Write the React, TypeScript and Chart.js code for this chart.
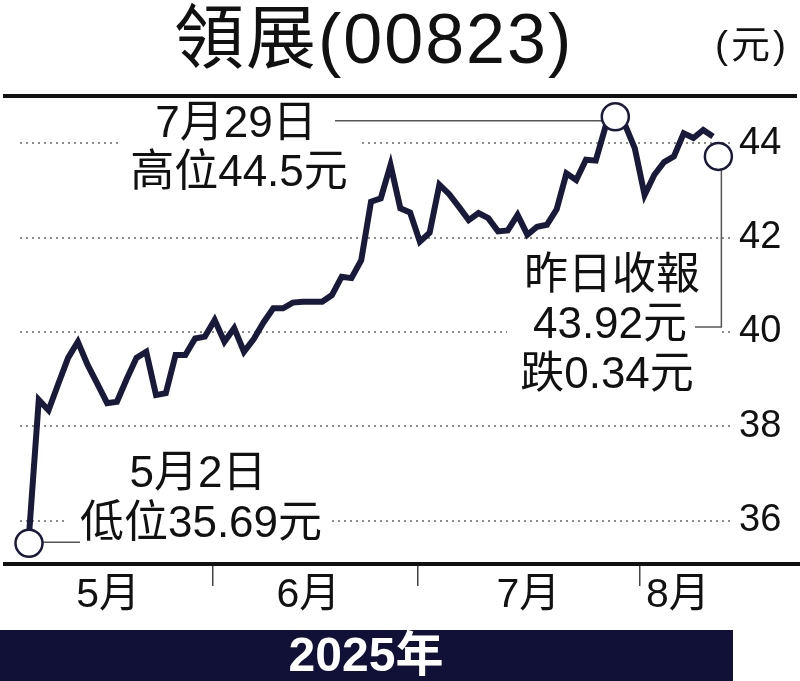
import React, { useEffect, useRef } from "react";
import { Chart, registerables } from "chart.js";

Chart.register(...registerables);

// 領展(00823) 收市價, 2025-05-02 起每個交易日
const closes = [
  35.69, 38.56, 38.34, 38.9, 39.45, 39.79, 39.3, 38.9, 38.49, 38.52,
  39.0, 39.45, 39.58, 38.66, 38.7, 39.51, 39.51, 39.86, 39.9, 40.25,
  39.79, 40.08, 39.58, 39.85, 40.2, 40.5, 40.5, 40.62, 40.64, 40.64,
  40.64, 40.78, 41.17, 41.14, 41.52, 42.76, 42.83, 43.54, 42.62, 42.53,
  41.91, 42.1, 43.12, 42.92, 42.65, 42.37, 42.52, 42.41, 42.13, 42.15,
  42.48, 42.06, 42.23, 42.27, 42.6, 43.36, 43.22, 43.65, 43.63, 44.35,
  44.5, 44.39, 43.89, 42.9, 43.33, 43.6, 43.72, 44.21, 44.11, 44.28,
  44.14,
];

// 圓圈標記 (低位, 高位, 昨日收報)
const markerX = [0, 60, 70.55];
const markerY = [35.52, 44.56, 43.72];

const monthNames = ["5月", "6月", "7月", "8月"];
const monthCenters = [8.1, 28.6, 51.1, 66.4];
const monthBounds = [18.8, 39.8, 62.5];
const yTicks = [36, 38, 40, 42, 44];

const title = "領展(00823)";
const unit = "(元)";
const yearLabel = "2025年";
const highNote = ["7月29日", "高位44.5元"];
const lowNote = ["5月2日", "低位35.69元"];
const closeNote = ["昨日收報", "43.92元", "跌0.34元"];

const NAVY = "#19193a";
const BAR = "#111138";
const FONT = "'Liberation Sans', 'Noto Sans CJK TC', sans-serif";

const xTickValues = [...monthCenters, ...monthBounds].sort((a, b) => a - b);

function text(ctx: CanvasRenderingContext2D, s: string, x: number, y: number, font: string, color = "#111", align: CanvasTextAlign = "center", baseline: CanvasTextBaseline = "middle") {
  ctx.font = font;
  ctx.fillStyle = color;
  ctx.textAlign = align;
  ctx.textBaseline = baseline;
  ctx.fillText(s, x, y);
}

function line(ctx: CanvasRenderingContext2D, pts: number[][], width: number, color: string) {
  ctx.beginPath();
  ctx.moveTo(pts[0][0], pts[0][1]);
  for (let i = 1; i < pts.length; i++) ctx.lineTo(pts[i][0], pts[i][1]);
  ctx.lineWidth = width;
  ctx.strokeStyle = color;
  ctx.stroke();
}

const overlay = {
  id: "overlay",
  beforeDraw(chart: any) {
    const { ctx, width, height } = chart;
    ctx.save();
    ctx.fillStyle = "#fff";
    ctx.fillRect(0, 0, width, height);
    ctx.restore();
  },
  beforeDatasetsDraw(chart: any) {
    const { ctx } = chart;
    const xs = chart.scales.x;
    const ys = chart.scales.y;
    ctx.save();
    // white boxes behind the notes
    ctx.fillStyle = "#fff";
    ctx.fillRect(118, 100, 240, 98);
    ctx.fillRect(67, 452, 263, 100);
    ctx.fillRect(507, 252, 211, 146);
    // leader lines
    const hx = xs.getPixelForValue(markerX[1]);
    const hy = ys.getPixelForValue(markerY[1]);
    line(ctx, [[335, hy + 4], [hx - 10, hy + 4]], 1.5, "#555");
    const lx = xs.getPixelForValue(markerX[0]);
    const ly = ys.getPixelForValue(markerY[0]);
    line(ctx, [[lx + 10, ly - 1], [80, ly - 1]], 1.5, "#555");
    const cx = xs.getPixelForValue(markerX[2]);
    const cy = ys.getPixelForValue(markerY[2]);
    line(ctx, [[cx + 3, cy + 10], [cx + 3, 327], [695, 327]], 1.5, "#555");
    ctx.restore();
  },
  afterDatasetsDraw(chart: any) {
    const { ctx } = chart;
    ctx.save();
    const f = `44px ${FONT}`;
    text(ctx, highNote[0], 236, 125, f);
    text(ctx, highNote[1], 239, 174, f);
    text(ctx, lowNote[0], 198, 475, f);
    text(ctx, lowNote[1], 201, 525, f);
    text(ctx, closeNote[0], 612, 277, f);
    text(ctx, closeNote[1], 610, 326, f);
    text(ctx, closeNote[2], 607, 376, f);
    ctx.restore();
  },
  afterDraw(chart: any) {
    const { ctx, width, height } = chart;
    ctx.save();
    (ctx as any).letterSpacing = "2px";
    text(ctx, title, 174, 63, `70px ${FONT}`, "#111", "left", "alphabetic");
    (ctx as any).letterSpacing = "3px";
    text(ctx, unit, 752, 58, `39px ${FONT}`, "#111", "center", "alphabetic");
    (ctx as any).letterSpacing = "0px";
    line(ctx, [[3, 96], [797, 96]], 4, "#111");
    line(ctx, [[3, 564], [width, 564]], 4, "#111");
    ctx.fillStyle = BAR;
    ctx.fillRect(0, 630, 733, height - 630);
    text(ctx, yearLabel, 366, 671, `bold 48px ${FONT}`, "#fff", "center", "alphabetic");
    ctx.restore();
  },
};

const App: React.FC = () => {
  const canvasRef = useRef<HTMLCanvasElement>(null);

  useEffect(() => {
    if (!canvasRef.current) return;
    const chart = new Chart(canvasRef.current, {
      type: "line",
      data: {
        datasets: [
          {
            label: "收市價",
            data: closes.map((v, i) => ({ x: i, y: v })),
            borderColor: NAVY,
            borderWidth: 6,
            pointRadius: 0,
            tension: 0,
            order: 1,
          },
          {
            label: "標記",
            data: markerX.map((x, i) => ({ x, y: markerY[i] })),
            showLine: false,
            pointRadius: 13.5,
            pointBorderWidth: 2.5,
            pointBackgroundColor: "#fff",
            pointBorderColor: NAVY,
            clip: false,
            order: 0,
          } as any,
        ],
      },
      options: {
        animation: false,
        responsive: false,
        layout: { padding: { top: 96, left: 20, right: 0, bottom: 0 } },
        plugins: { legend: { display: false }, tooltip: { enabled: false } },
        scales: {
          x: {
            type: "linear",
            position: "bottom",
            min: -0.921,
            max: 71.944,
            afterFit: (s: any) => {
              s.height = 117;
            },
            afterBuildTicks: (s: any) => {
              s.ticks = xTickValues.map((v) => ({ value: v }));
            },
            grid: {
              drawOnChartArea: false,
              drawTicks: true,
              tickLength: 22,
              tickWidth: 1.5,
              lineWidth: 1.5,
              tickColor: (c: any) => (c.tick && monthBounds.includes(c.tick.value) ? "#444" : "rgba(0,0,0,0)"),
            },
            border: { display: false },
            ticks: {
              autoSkip: false,
              maxRotation: 0,
              padding: -15,
              color: "#111",
              font: { family: FONT, size: 41 },
              callback: (v: any) => {
                const k = monthCenters.indexOf(Number(v));
                return k >= 0 ? monthNames[k] : "";
              },
            },
          },
          y: {
            position: "right",
            min: 35.08,
            max: 45.0,
            afterFit: (s: any) => {
              s.width = 68;
            },
            afterBuildTicks: (s: any) => {
              s.ticks = yTicks.map((v) => ({ value: v }));
            },
            grid: { color: "#8c8c8c", lineWidth: 2, drawTicks: false },
            border: { display: false, dash: [2, 4] },
            ticks: { padding: 7, color: "#111", font: { family: FONT, size: 38 } },
          },
        },
      },
      plugins: [overlay],
    });
    return () => chart.destroy();
  }, []);

  return (
    <div style={{ position: "absolute", left: 0, top: 0, width: 800, height: 681 }}>
      <canvas ref={canvasRef} width={800} height={681} style={{ display: "block" }} />
    </div>
  );
};

export default App;
